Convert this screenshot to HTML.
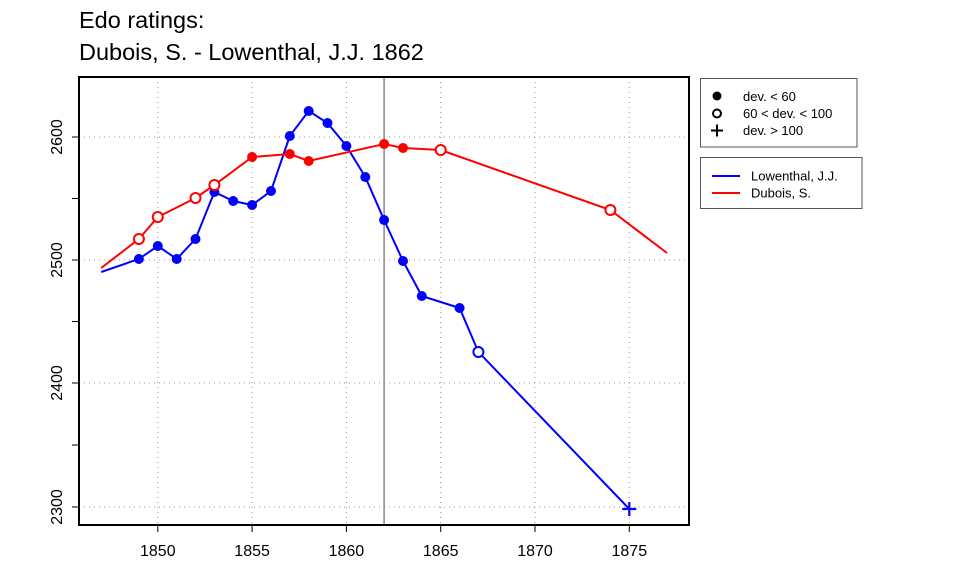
<!DOCTYPE html>
<html><head><meta charset="utf-8"><style>body{margin:0;background:#fff}svg{display:block}text{font-family:"Liberation Sans",sans-serif}</style></head><body>
<svg width="960" height="576" viewBox="0 0 960 576">
<text x="79" y="28" font-size="23.5">Edo ratings:</text>
<text x="79" y="60" font-size="23.5">Dubois, S. - Lowenthal, J.J. 1862</text>
<g stroke="#999" stroke-width="1" stroke-dasharray="1,4">
<line x1="79" x2="689" y1="137" y2="137"/><line x1="79" x2="689" y1="260" y2="260"/><line x1="79" x2="689" y1="383" y2="383"/><line x1="79" x2="689" y1="507" y2="507"/>
<line x1="157.8" x2="157.8" y1="77" y2="525"/><line x1="252.1" x2="252.1" y1="77" y2="525"/><line x1="346.4" x2="346.4" y1="77" y2="525"/><line x1="440.7" x2="440.7" y1="77" y2="525"/><line x1="535" x2="535" y1="77" y2="525"/><line x1="629.3" x2="629.3" y1="77" y2="525"/>
</g>
<line x1="384.1" x2="384.1" y1="77" y2="525" stroke="#888" stroke-width="1.5"/>
<g stroke="#000" stroke-width="1">
<line x1="157.8" x2="157.8" y1="525" y2="532"/><line x1="252.1" x2="252.1" y1="525" y2="532"/><line x1="346.4" x2="346.4" y1="525" y2="532"/><line x1="440.7" x2="440.7" y1="525" y2="532"/><line x1="535" x2="535" y1="525" y2="532"/><line x1="629.3" x2="629.3" y1="525" y2="532"/>
<line x1="72" x2="79" y1="137" y2="137"/><line x1="72" x2="79" y1="198.5" y2="198.5"/><line x1="72" x2="79" y1="260" y2="260"/><line x1="72" x2="79" y1="321.5" y2="321.5"/><line x1="72" x2="79" y1="383" y2="383"/><line x1="72" x2="79" y1="445" y2="445"/><line x1="72" x2="79" y1="507" y2="507"/>
</g>
<g font-size="16" text-anchor="middle">
<text x="157.8" y="556">1850</text><text x="252.1" y="556">1855</text><text x="346.4" y="556">1860</text><text x="440.7" y="556">1865</text><text x="535" y="556">1870</text><text x="629.3" y="556">1875</text>
<text transform="translate(62,137) rotate(-90)">2600</text><text transform="translate(62,260) rotate(-90)">2500</text><text transform="translate(62,383) rotate(-90)">2400</text><text transform="translate(62,507) rotate(-90)">2300</text>
</g>
<polyline fill="none" stroke="#00f" stroke-width="2" points="101.2,272 138.9,259 157.8,246 176.7,259 195.5,239 214.4,192 233.2,201 252.1,205 271,191 289.8,136 308.7,111 327.5,123 346.4,146 365.3,177 384.1,220 403,261 421.8,296 459.6,308 478.4,352 629.3,509"/>
<g fill="#00f">
<circle cx="138.9" cy="259" r="5"/><circle cx="157.8" cy="246" r="5"/><circle cx="176.7" cy="259" r="5"/><circle cx="195.5" cy="239" r="5"/><circle cx="214.4" cy="192" r="5"/><circle cx="233.2" cy="201" r="5"/><circle cx="252.1" cy="205" r="5"/><circle cx="271" cy="191" r="5"/><circle cx="289.8" cy="136" r="5"/><circle cx="308.7" cy="111" r="5"/><circle cx="327.5" cy="123" r="5"/><circle cx="346.4" cy="146" r="5"/><circle cx="365.3" cy="177" r="5"/><circle cx="384.1" cy="220" r="5"/><circle cx="403" cy="261" r="5"/><circle cx="421.8" cy="296" r="5"/><circle cx="459.6" cy="308" r="5"/>
</g>
<circle cx="478.4" cy="352" r="5" fill="#fff" stroke="#00f" stroke-width="2"/>
<path d="M622.3,509h14M629.3,502v14" stroke="#00f" stroke-width="2.2"/>
<polyline fill="none" stroke="#f00" stroke-width="2" points="101.2,268 138.9,239 157.8,217 195.5,198 214.4,185 252.1,157 289.8,154 308.7,161 384.1,144 403,148 440.7,150 610.4,210 667,253"/>
<g fill="#f00"><circle cx="252.1" cy="157" r="5"/><circle cx="289.8" cy="154" r="5"/><circle cx="308.7" cy="161" r="5"/><circle cx="384.1" cy="144" r="5"/><circle cx="403" cy="148" r="5"/></g>
<g fill="#fff" stroke="#f00" stroke-width="2"><circle cx="138.9" cy="239" r="5"/><circle cx="157.8" cy="217" r="5"/><circle cx="195.5" cy="198" r="5"/><circle cx="214.4" cy="185" r="5"/><circle cx="440.7" cy="150" r="5"/><circle cx="610.4" cy="210" r="5"/></g>
<rect x="79" y="77" width="610" height="448" fill="none" stroke="#000" stroke-width="2"/>
<rect x="700.5" y="78.5" width="156.5" height="68.5" fill="#fff" stroke="#555" stroke-width="1"/>
<circle cx="717" cy="96" r="4.5" fill="#000"/>
<circle cx="717" cy="113.5" r="4" fill="none" stroke="#000" stroke-width="2"/>
<path d="M711,130.5h12M717,124.5v12" stroke="#000" stroke-width="2"/>
<g font-size="13"><text x="743" y="101">dev. &lt; 60</text><text x="743" y="118">60 &lt; dev. &lt; 100</text><text x="743" y="135">dev. &gt; 100</text></g>
<rect x="700.5" y="157.5" width="161.5" height="51" fill="#fff" stroke="#555" stroke-width="1"/>
<line x1="712" x2="740" y1="176" y2="176" stroke="#00f" stroke-width="2"/>
<line x1="712" x2="740" y1="193" y2="193" stroke="#f00" stroke-width="2"/>
<g font-size="13"><text x="751" y="180.5">Lowenthal, J.J.</text><text x="751" y="197.5">Dubois, S.</text></g>
</svg>
</body></html>
